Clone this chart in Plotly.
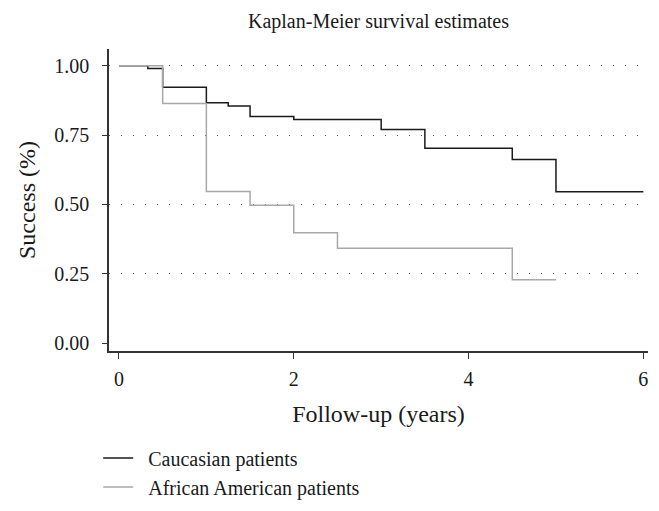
## Kaplan-Meier survival estimates
import plotly.graph_objs as go

### data
cauc_years = [0, 0.33, 0.5, 1.0, 1.25, 1.5, 2.0, 3.0, 3.5, 4.5, 5.0, 6.0]
cauc_surv = [1.0, 0.99, 0.922, 0.866, 0.855, 0.817, 0.806, 0.770, 0.702, 0.662, 0.546, 0.546]

afam_years = [0, 0.5, 1.0, 1.5, 2.0, 2.5, 4.5, 5.0]
afam_surv = [1.0, 0.864, 0.547, 0.497, 0.398, 0.342, 0.229, 0.229]

y_ticks = [0, 0.25, 0.5, 0.75, 1.0]
y_labels = ["0.00", "0.25", "0.50", "0.75", "1.00"]
x_ticks = [0, 2, 4, 6]

FONT = "Liberation Serif"
AXIS = "#333333"
PAD = "\u00a0\u00a0"

fig = go.Figure()
fig.add_trace(go.Scatter(x=cauc_years, y=cauc_surv, mode="lines", line_shape="hv",
                         line=dict(color="#1a1a1a", width=1.5), name=PAD + "Caucasian patients"))
fig.add_trace(go.Scatter(x=afam_years, y=afam_surv, mode="lines", line_shape="hv",
                         line=dict(color="#a8a8a8", width=1.5), name=PAD + "African American patients"))
# invisible trace only to carry the dotted grid axis
fig.add_trace(go.Scatter(x=[0], y=[0], yaxis="y2", mode="markers", marker=dict(opacity=0),
                         showlegend=False, hoverinfo="skip"))

fig.update_layout(
    width=659, height=511,
    margin=dict(l=101, r=19, t=41, b=156),
    paper_bgcolor="white", plot_bgcolor="white",
    font=dict(family=FONT, size=20, color="#1a1a1a"),
    title=dict(text="Kaplan-Meier survival estimates", x=0.5, xref="paper", xanchor="center",
               y=0.975, yref="container", yanchor="middle", font=dict(size=20)),
    xaxis=dict(range=[-0.114, 6.053], tickvals=x_ticks, showgrid=False, zeroline=False,
               showline=True, linecolor=AXIS, linewidth=1.5,
               ticks="outside", ticklen=6, tickcolor=AXIS, tickwidth=1.2, ticklabelstandoff=3,
               title=dict(text="Follow-up (years)", standoff=16)),
    yaxis=dict(range=[-0.028, 1.06], tickvals=y_ticks, ticktext=y_labels, showgrid=False,
               zeroline=False, showline=True, linecolor=AXIS, linewidth=1.5,
               ticks="outside", ticklen=5, tickcolor=AXIS, tickwidth=1.2, ticklabelstandoff=9,
               title=dict(text="Success (%)", standoff=12)),
    yaxis2=dict(range=[-0.028, 1.06], overlaying="y", tickvals=y_ticks[1:], showticklabels=False,
                showgrid=True, gridcolor="#555555", gridwidth=1.2, griddash="1px,11px",
                zeroline=False, showline=False),
    legend=dict(x=-0.02, xanchor="left", y=-0.29, yanchor="top", orientation="v",
                font=dict(size=20), bgcolor="rgba(0,0,0,0)"),
    showlegend=True,
)

fig.write_html("out.html")
